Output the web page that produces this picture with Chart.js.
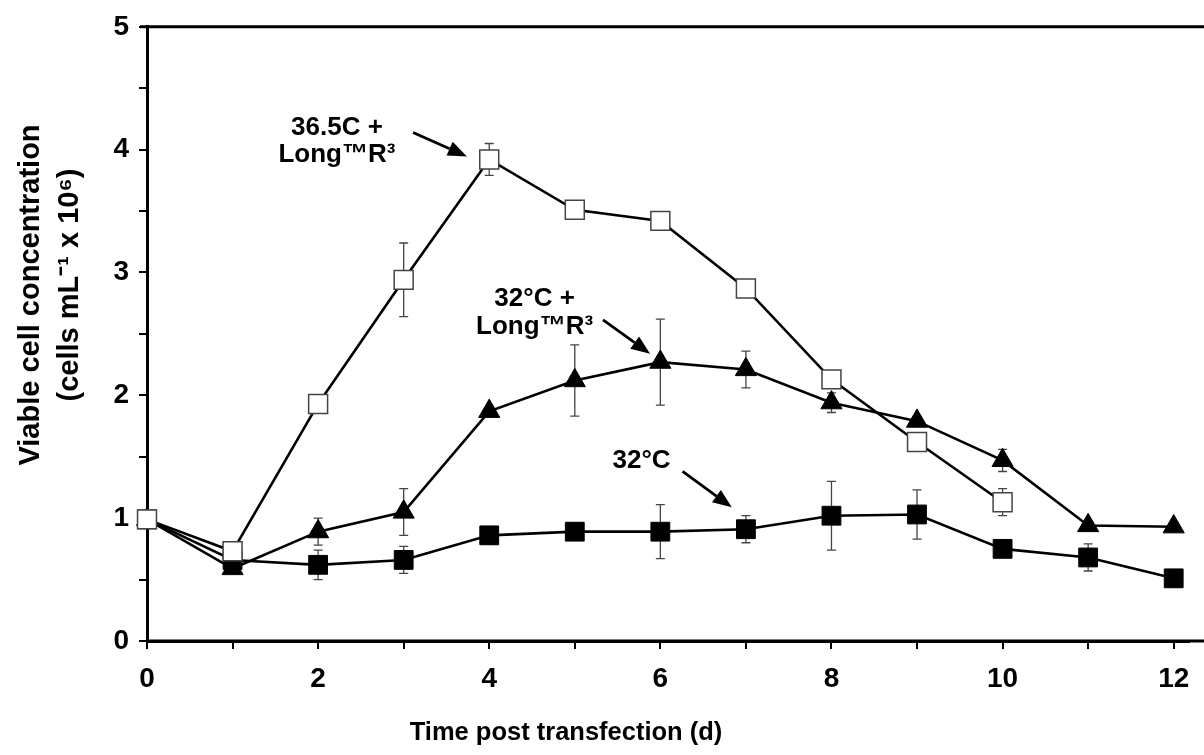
<!DOCTYPE html>
<html>
<head>
<meta charset="utf-8">
<script src="https://cdn.jsdelivr.net/npm/chart.js@4/dist/chart.umd.min.js"></script>
<style>
  html, body { margin: 0; padding: 0; background: #fff; overflow: hidden; }
  #wrap { width: 1204px; height: 755px; }
  canvas { display: block; }
</style>
</head>
<body>
<div id="wrap"><canvas id="c" width="1204" height="755"></canvas></div>
<script>
// ---- data ----
const days = [0, 1, 2, 3, 4, 5, 6, 7, 8, 9, 10, 11, 12];

const hiTempLongR3 = [0.99, 0.73, 1.93, 2.94, 3.92, 3.51, 3.42, 2.87, 2.13, 1.62, 1.13];
const hiTempLongR3Err = [0, 0, 0, 0.30, 0.13, 0, 0, 0.05, 0, 0, 0.11];

const lowTempLongR3 = [0.99, 0.59, 0.89, 1.05, 1.87, 2.12, 2.27, 2.21, 1.94, 1.79, 1.47, 0.94, 0.93];
const lowTempLongR3Err = [0, 0, 0.11, 0.19, 0, 0.29, 0.35, 0.15, 0.08, 0, 0.09, 0, 0];

const lowTemp = [0.99, 0.66, 0.62, 0.66, 0.86, 0.89, 0.89, 0.91, 1.02, 1.03, 0.75, 0.68, 0.51];
const lowTempErr = [0, 0, 0.12, 0.11, 0.07, 0.07, 0.22, 0.11, 0.28, 0.2, 0, 0.11, 0.07];

const yTicks = [0, 1, 2, 3, 4, 5];
const xTicks = [0, 2, 4, 6, 8, 10, 12];

const xTitle = 'Time post transfection (d)';
const yTitle = ['Viable cell concentration', '(cells mL\u207B\u00B9 x 10\u2076)'];

const annotations = [
  { lines: ['36.5C +', 'Long\u2122R\u00B3'], tx: 2.22, ty: [4.12, 3.90], from: [3.11, 4.14], to: [3.74, 3.945] },
  { lines: ['32\u00B0C +', 'Long\u2122R\u00B3'], tx: 4.53, ty: [2.727, 2.50], from: [5.33, 2.614], to: [5.88, 2.338] },
  { lines: ['32\u00B0C'], tx: 5.78, ty: [1.412], from: [6.26, 1.38], to: [6.835, 1.088] }
];

// ---- build datasets ----
function pts(vals) { return vals.map((v, i) => ({ x: days[i], y: v })); }

const FONT = "'Liberation Sans', Arial, sans-serif";

const datasets = [
  {
    label: '36.5C + LongR3',
    data: pts(hiTempLongR3),
    err: hiTempLongR3Err,
    borderColor: '#000', borderWidth: 2.6,
    pointStyle: 'rect', pointRadius: 13.4,
    pointBackgroundColor: '#fff', pointBorderColor: '#444', pointBorderWidth: 1.5,
    tension: 0, order: 1, clip: false
  },
  {
    label: '32C + LongR3',
    data: pts(lowTempLongR3),
    err: lowTempLongR3Err,
    borderColor: '#000', borderWidth: 2.6,
    pointStyle: 'triangle', pointRadius: 12.2,
    pointBackgroundColor: '#000', pointBorderColor: '#000', pointBorderWidth: 1,
    tension: 0, order: 2, clip: false
  },
  {
    label: '32C',
    data: pts(lowTemp),
    err: lowTempErr,
    borderColor: '#000', borderWidth: 2.6,
    pointStyle: 'rect', pointRadius: 13.3,
    pointBackgroundColor: '#000', pointBorderColor: '#000', pointBorderWidth: 1,
    tension: 0, order: 3, clip: false
  }
];

// ---- plugins ----
const errorBars = {
  id: 'errorBars',
  beforeDatasetsDraw(chart) {
    const ctx = chart.ctx, xs = chart.scales.x, ys = chart.scales.y;
    ctx.save();
    ctx.strokeStyle = '#444';
    ctx.lineWidth = 1.3;
    chart.data.datasets.forEach(ds => {
      ds.data.forEach((p, i) => {
        const e = ds.err[i];
        if (!e) return;
        const x = xs.getPixelForValue(p.x);
        const y1 = ys.getPixelForValue(p.y + e);
        const y2 = ys.getPixelForValue(p.y - e);
        ctx.beginPath();
        ctx.moveTo(x, y1); ctx.lineTo(x, y2);
        ctx.moveTo(x - 4.5, y1); ctx.lineTo(x + 4.5, y1);
        ctx.moveTo(x - 4.5, y2); ctx.lineTo(x + 4.5, y2);
        ctx.stroke();
      });
    });
    ctx.restore();
  }
};

const decor = {
  id: 'decor',
  afterDraw(chart) {
    const ctx = chart.ctx, xs = chart.scales.x, ys = chart.scales.y;
    ctx.save();
    // top frame line at y = 5 and bottom axis continued to the edge
    const yTop = ys.getPixelForValue(5);
    const yBot = ys.getPixelForValue(0);
    ctx.strokeStyle = '#000';
    ctx.lineWidth = 3;
    ctx.beginPath();
    ctx.moveTo(xs.left - 7, yTop);
    ctx.lineTo(chart.width, yTop);
    ctx.moveTo(xs.left, yBot);
    ctx.lineTo(chart.width, yBot);
    ctx.stroke();

    // annotations
    ctx.fillStyle = '#000';
    ctx.font = "bold 26px " + FONT;
    ctx.textAlign = 'center';
    ctx.textBaseline = 'alphabetic';
    annotations.forEach(a => {
      a.lines.forEach((t, k) => {
        ctx.fillText(t, xs.getPixelForValue(a.tx), ys.getPixelForValue(a.ty[k]));
      });
      const x1 = xs.getPixelForValue(a.from[0]), y1 = ys.getPixelForValue(a.from[1]);
      const x2 = xs.getPixelForValue(a.to[0]), y2 = ys.getPixelForValue(a.to[1]);
      const ang = Math.atan2(y2 - y1, x2 - x1);
      const L = 19, W = 7.5;
      const bx = x2 - L * Math.cos(ang), by = y2 - L * Math.sin(ang);
      ctx.lineWidth = 2.8;
      ctx.beginPath();
      ctx.moveTo(x1, y1); ctx.lineTo(bx, by);
      ctx.stroke();
      ctx.beginPath();
      ctx.moveTo(x2, y2);
      ctx.lineTo(bx + W * Math.sin(ang), by - W * Math.cos(ang));
      ctx.lineTo(bx - W * Math.sin(ang), by + W * Math.cos(ang));
      ctx.closePath();
      ctx.fill();
    });

    // axis titles
    ctx.font = "bold 25.5px " + FONT;
    ctx.textAlign = 'center';
    ctx.textBaseline = 'alphabetic';
    ctx.fillText(xTitle, 566, 740);

    ctx.font = "bold 29px " + FONT;
    ctx.textBaseline = 'middle';
    ctx.save();
    ctx.translate(31, 295);
    ctx.rotate(-Math.PI / 2);
    ctx.fillText(yTitle[0], 0, 0);
    ctx.restore();
    ctx.save();
    ctx.translate(70, 285);
    ctx.rotate(-Math.PI / 2);
    ctx.fillText(yTitle[1], 0, 0);
    ctx.restore();
    ctx.restore();
  }
};

new Chart(document.getElementById('c'), {
  type: 'line',
  data: { datasets },
  options: {
    responsive: false,
    animation: false,
    devicePixelRatio: 1,
    layout: { padding: { top: 25, right: 0, bottom: 0, left: 0 } },
    plugins: { legend: { display: false }, tooltip: { enabled: false } },
    scales: {
      x: {
        type: 'linear',
        min: 0, max: 12.18,
        afterFit(s) { s.height = 114; s.paddingRight = 0; s.paddingLeft = 0; },
        border: { color: '#000', width: 3 },
        grid: { drawOnChartArea: false, drawTicks: true, tickLength: 8, color: '#000', lineWidth: 2 },
        ticks: {
          stepSize: 1, includeBounds: false, autoSkip: false, maxRotation: 0,
          color: '#000', padding: 13,
          font: { family: FONT, weight: 'bold', size: 28 },
          callback: v => xTicks.includes(v) ? String(v) : ''
        }
      },
      y: {
        min: 0, max: 5,
        afterFit(s) { s.width = 147; },
        border: { color: '#000', width: 3 },
        grid: { drawOnChartArea: false, drawTicks: true, tickLength: 8, color: '#000', lineWidth: 2 },
        ticks: {
          stepSize: 0.5, autoSkip: false,
          color: '#000', padding: 10,
          font: { family: FONT, weight: 'bold', size: 28 },
          callback: v => yTicks.includes(v) ? String(v) : ''
        }
      }
    }
  },
  plugins: [errorBars, decor]
});
</script>
</body>
</html>
